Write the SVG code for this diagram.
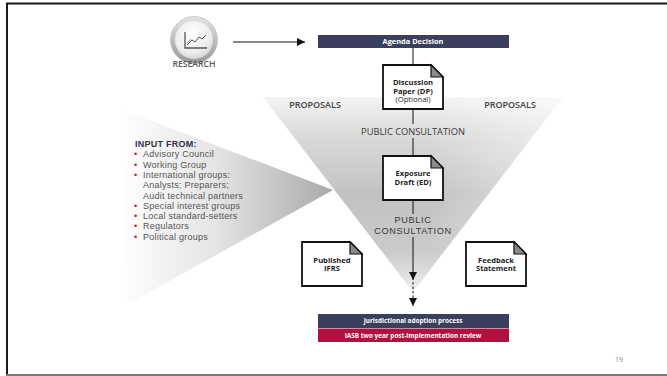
<svg xmlns="http://www.w3.org/2000/svg" width="667" height="376" viewBox="0 0 667 376">
<defs>
<style>
.lbl{font-family:"Open Sans","Liberation Sans",sans-serif;fill:#3a3a3a;font-size:9.3px;text-anchor:middle}
.lbl2{font-family:"Liberation Sans","Open Sans",sans-serif;fill:#3a3a3a;font-size:9.2px;letter-spacing:0.65px;text-anchor:middle}
.doct{font-family:"Open Sans","Liberation Sans",sans-serif;fill:#1e1e1e;font-size:7.6px;font-weight:bold;text-anchor:middle}
.doctr{font-family:"Open Sans","Liberation Sans",sans-serif;fill:#1e1e1e;font-size:7.6px;text-anchor:middle}
.bar{font-family:"Open Sans","Liberation Sans",sans-serif;fill:#ffffff;font-size:6.4px;font-weight:bold;text-anchor:middle}
.inp{font-family:"Liberation Sans","Open Sans",sans-serif;fill:#555;font-size:9px;letter-spacing:0.25px}
.bul{fill:#c0143c}
.ln{stroke:#111;stroke-width:1;fill:none}
.docshape{fill:#fff;stroke:#111;stroke-width:1.8;stroke-linejoin:miter}
.fold{fill:#8a8a8a;stroke:#111;stroke-width:1.2;stroke-linejoin:miter}
</style>
<linearGradient id="funnelG" x1="0" y1="97" x2="0" y2="292" gradientUnits="userSpaceOnUse">
<stop offset="0" stop-color="#f4f4f4"/>
<stop offset="0.18" stop-color="#dcdcdc"/>
<stop offset="0.5" stop-color="#c2c2c2"/>
<stop offset="0.8" stop-color="#cbcbcb"/>
<stop offset="1" stop-color="#f0f0f0"/>
</linearGradient>
<linearGradient id="funnelH" x1="263" y1="0" x2="563" y2="0" gradientUnits="userSpaceOnUse">
<stop offset="0" stop-color="#ffffff" stop-opacity="0"/>
<stop offset="0.55" stop-color="#ffffff" stop-opacity="0"/>
<stop offset="1" stop-color="#ffffff" stop-opacity="0.55"/>
</linearGradient>
<linearGradient id="wedgeG" x1="120" y1="0" x2="333" y2="0" gradientUnits="userSpaceOnUse">
<stop offset="0" stop-color="#ffffff"/>
<stop offset="0.45" stop-color="#e4e4e4"/>
<stop offset="1" stop-color="#a9a9a9"/>
</linearGradient>
<linearGradient id="ringG" x1="0" y1="0" x2="0" y2="1">
<stop offset="0" stop-color="#e4e4e4"/>
<stop offset="1" stop-color="#999"/>
</linearGradient>
<radialGradient id="faceG" cx="0.45" cy="0.35" r="0.7">
<stop offset="0" stop-color="#ffffff"/>
<stop offset="0.7" stop-color="#ececec"/>
<stop offset="1" stop-color="#cfcfcf"/>
</radialGradient>
<marker id="ah" viewBox="0 0 10 10" refX="10" refY="5" markerWidth="8" markerHeight="8" markerUnits="userSpaceOnUse" orient="auto">
<path d="M0,0 L10,5 L0,10 Z" fill="#111"/>
</marker>
<g id="doc">
<path class="docshape" d="M0,0 H48 L60,12 V44 H0 Z"/>
<path class="fold" d="M48,0 L60,12 H48 Z"/>
</g>
</defs>
<rect x="0" y="0" width="667" height="376" fill="#ffffff"/>
<g id="frame">
<line x1="6" y1="3.5" x2="667" y2="3.5" stroke="#1a1a1a" stroke-width="2"/>
<line x1="7" y1="3" x2="7" y2="375" stroke="#1a1a1a" stroke-width="2"/>
<line x1="6" y1="375" x2="667" y2="375" stroke="#7a7a7a" stroke-width="2"/>
</g>
<g id="funnel">
<polygon points="263,97 563,97 413,292" fill="url(#funnelG)"/>
<polygon points="263,97 563,97 413,292" fill="url(#funnelH)"/>
</g>
<g id="input-wedge">
<polygon points="118,108 333,190 128,304" fill="url(#wedgeG)"/>
</g>
<g id="connectors">
<line class="ln" x1="233" y1="42" x2="305" y2="42" marker-end="url(#ah)"/>
<line class="ln" x1="413" y1="48" x2="413" y2="65"/>
<line class="ln" x1="413" y1="110" x2="413" y2="124"/>
<line class="ln" x1="413" y1="138" x2="413" y2="156"/>
<line class="ln" x1="413" y1="200" x2="413" y2="214"/>
<line class="ln" x1="413" y1="237" x2="413" y2="280" marker-end="url(#ah)"/>
<line class="ln" x1="413" y1="282" x2="413" y2="306" stroke-dasharray="2.5,2" marker-end="url(#ah)"/>
</g>
<g id="research">
<circle cx="194" cy="40" r="23.5" fill="url(#ringG)" stroke="#b0b0b0" stroke-width="0.6"/>
<circle cx="194" cy="40" r="19" fill="url(#faceG)"/>
<path d="M185,32 V48 H207" fill="none" stroke="#555" stroke-width="1.3"/>
<path d="M187,45 L192,40 L195,42 L199,37 L202,39 L206,35" fill="none" stroke="#555" stroke-width="1"/>
<path d="M187,43 L191,39" fill="none" stroke="#777" stroke-width="0.8"/>
<text x="194" y="67" class="lbl" style="font-size:8.6px;font-weight:600;fill:#555">RESEARCH</text>
</g>
<g id="agenda">
<rect x="318" y="35" width="191" height="13" fill="#3b3f5e"/>
<text x="413" y="44.3" class="bar" style="font-size:7.4px">Agenda Decision</text>
</g>
<g id="dp">
<use href="#doc" x="383" y="65"/>
<text x="413" y="85" class="doct">Discussion</text>
<text x="413" y="93.5" class="doct">Paper (DP)</text>
<text x="413" y="102" class="doctr">(Optional)</text>
</g>
<g id="proposals-left"><text x="315" y="108" class="lbl" style="font-size:9px;font-weight:600;fill:#444">PROPOSALS</text></g>
<g id="proposals-right"><text x="510" y="108" class="lbl" style="font-size:9px;font-weight:600;fill:#444">PROPOSALS</text></g>
<g id="pc1"><text x="413" y="134.5" class="lbl">PUBLIC CONSULTATION</text></g>
<g id="ed">
<use href="#doc" x="383" y="156"/>
<text x="413" y="176" class="doct">Exposure</text>
<text x="413" y="184.5" class="doct">Draft (ED)</text>
</g>
<g id="pc2">
<text x="413" y="223.3" class="lbl2">PUBLIC</text>
<text x="413" y="233.6" class="lbl2">CONSULTATION</text>
</g>
<g id="ifrs">
<use href="#doc" x="302" y="242"/>
<text x="332" y="262.5" class="doct">Published</text>
<text x="332" y="271" class="doct">IFRS</text>
</g>
<g id="feedback">
<use href="#doc" x="466" y="242"/>
<text x="496" y="262.5" class="doct">Feedback</text>
<text x="496" y="271" class="doct">Statement</text>
</g>
<g id="input-list">
<text x="135" y="147" class="inp" style="font-weight:bold;fill:#2e3448">INPUT FROM:</text>
<g class="inp">
<text x="134" y="157.3"><tspan class="bul">•</tspan><tspan x="143">Advisory Council</tspan></text>
<text x="134" y="167.6"><tspan class="bul">•</tspan><tspan x="143">Working Group</tspan></text>
<text x="134" y="177.9"><tspan class="bul">•</tspan><tspan x="143">International groups:</tspan></text>
<text x="143" y="188.2">Analysts; Preparers;</text>
<text x="143" y="198.5">Audit technical partners</text>
<text x="134" y="208.8"><tspan class="bul">•</tspan><tspan x="143">Special interest groups</tspan></text>
<text x="134" y="219.1"><tspan class="bul">•</tspan><tspan x="143">Local standard-setters</tspan></text>
<text x="134" y="229.4"><tspan class="bul">•</tspan><tspan x="143">Regulators</tspan></text>
<text x="134" y="239.7"><tspan class="bul">•</tspan><tspan x="143">Political groups</tspan></text>
</g>
</g>
<g id="adoption">
<rect x="318" y="314" width="191" height="14" fill="#3b3f5e"/>
<text x="413" y="323.3" class="bar">Jurisdictional adoption process</text>
</g>
<g id="review">
<rect x="318" y="328.5" width="191" height="13.5" fill="#b0123f"/>
<text x="413" y="337.6" class="bar">IASB two year post-implementation review</text>
</g>
<g id="page-number"><text x="619" y="362" style="font-family:'Open Sans','Liberation Sans',sans-serif;font-size:7px;fill:#888;text-anchor:middle">19</text></g>
</svg>
